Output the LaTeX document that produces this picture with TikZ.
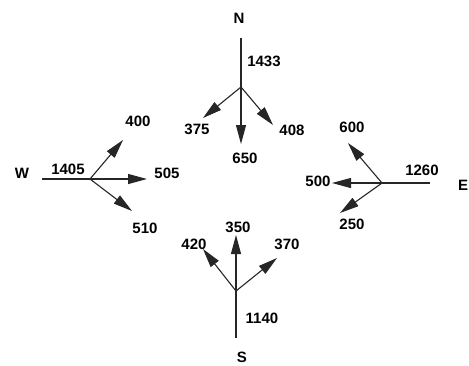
\documentclass[tikz,border=0pt]{standalone}
\usepackage{fontspec}
\setmainfont{Liberation Sans}
\usetikzlibrary{arrows.meta}
\begin{document}
\begin{tikzpicture}[x=1pt,y=-1pt,
  lbl/.style={font=\fontsize{15}{15}\selectfont\bfseries, inner sep=0pt},
  road/.style={line width=1.1pt, draw=black!85},
  flow/.style={line width=1.1pt, draw=black!85, -{Triangle[length=19pt,width=10pt]}}]
\useasboundingbox (0,0) rectangle (469,365);
% North
\coordinate (nt) at (241,38);
\coordinate (nj) at (241,87);
\coordinate (n1) at (203,118);
\coordinate (n2) at (241,144);
\coordinate (n3) at (273,125);
\draw[road] (nt) -- (nj);
\draw[flow] (nj) -- (n1);
\draw[flow] (nj) -- (n2);
\draw[flow] (nj) -- (n3);
\node[lbl] (N) at (239,18) {N};
\node[lbl] (l1433) at (264,61) {1433};
\node[lbl] (l375) at (197,129) {375};
\node[lbl] (l650) at (245,158) {650};
\node[lbl] (l408) at (292,130) {408};
% West
\coordinate (wt) at (42,179);
\coordinate (wj) at (90,179);
\coordinate (w1) at (123,140);
\coordinate (w2) at (147,179);
\coordinate (w3) at (132,211);
\draw[road] (wt) -- (wj);
\draw[flow] (wj) -- (w1);
\draw[flow] (wj) -- (w2);
\draw[flow] (wj) -- (w3);
\node[lbl] (W) at (22,173) {W};
\node[lbl] (l1405) at (68,169) {1405};
\node[lbl] (l400) at (138,121) {400};
\node[lbl] (l505) at (167,173) {505};
\node[lbl] (l510) at (145,228) {510};
% East
\coordinate (et) at (430,183);
\coordinate (ej) at (382,183);
\coordinate (e1) at (348,143);
\coordinate (e2) at (332,183);
\coordinate (e3) at (340,213);
\draw[road] (et) -- (ej);
\draw[flow] (ej) -- (e1);
\draw[flow] (ej) -- (e2);
\draw[flow] (ej) -- (e3);
\node[lbl] (E) at (463,185) {E};
\node[lbl] (l1260) at (422,170) {1260};
\node[lbl] (l600) at (352,127) {600};
\node[lbl] (l500) at (318,181) {500};
\node[lbl] (l250) at (352,224) {250};
% South
\coordinate (st) at (236,338);
\coordinate (sj) at (236,291);
\coordinate (s1) at (203,249);
\coordinate (s2) at (236,235);
\coordinate (s3) at (277,258);
\draw[road] (st) -- (sj);
\draw[flow] (sj) -- (s1);
\draw[flow] (sj) -- (s2);
\draw[flow] (sj) -- (s3);
\node[lbl] (S) at (242,357) {S};
\node[lbl] (l1140) at (262,318) {1140};
\node[lbl] (l420) at (194,244) {420};
\node[lbl] (l350) at (238,227) {350};
\node[lbl] (l370) at (287,244) {370};
\end{tikzpicture}
\end{document}
